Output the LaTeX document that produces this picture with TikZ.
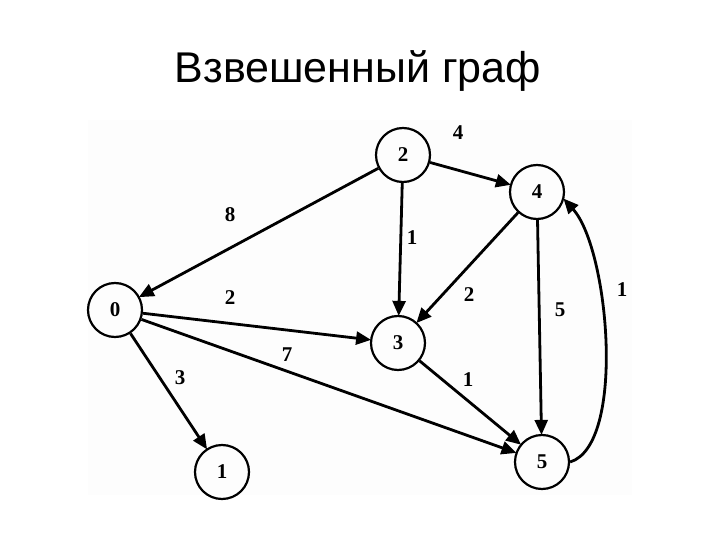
\documentclass[tikz,border=0pt]{standalone}
\usepackage{fontspec}
\setmainfont{Liberation Serif}
\newfontfamily\titlefont{Liberation Sans}
\usetikzlibrary{arrows.meta}

\begin{document}
\begin{tikzpicture}[x=1pt, y=-1pt,
    vertex/.style={draw, circle, line width=2.2pt, minimum size=54pt, inner sep=0pt,
        font=\fontsize{21}{21}\selectfont\bfseries},
    edge/.style={line width=2.8pt, -{Triangle[length=15pt,width=13pt]}, shorten >=-1pt},
    weight/.style={font=\fontsize{21}{21}\selectfont\bfseries}]
    \useasboundingbox (0,0) rectangle (720,540);
    \fill[white] (0,0) rectangle (720,540);
    \fill[black!0.8] (88,120) rectangle (632,495);

    \node[font=\titlefont\fontsize{43}{50}\selectfont, anchor=base] (title) at (358,83) {Взвешенный граф};

    \node[vertex] (n0) at (115,310) {0};
    \node[vertex] (n1) at (222,472) {1};
    \node[vertex] (n2) at (403,155) {2};
    \node[vertex] (n3) at (398,343) {3};
    \node[vertex] (n4) at (537,192) {4};
    \node[vertex] (n5) at (542,462) {5};

    \draw[edge] (n2) -- (n0);
    \draw[edge] (n2) -- (n4);
    \draw[edge] (n2) -- (n3);
    \draw[edge] (n4) -- (n3);
    \draw[edge] (n4) -- (n5);
    \draw[edge] (n0) -- (n3);
    \draw[edge] (n0) -- (n5);
    \draw[edge] (n0) -- (n1);
    \draw[edge] (n3) -- (n5);
    \draw[edge] (n5.east) .. controls +(56,-17) and +(45,50) .. (n4.-15);

    \node[weight] (w20) at (230,215) {8};
    \node[weight] (w24) at (458,133) {4};
    \node[weight] (w23) at (412,238) {1};
    \node[weight] (w43) at (469,295) {2};
    \node[weight] (w45) at (560,310) {5};
    \node[weight] (w54) at (622,290) {1};
    \node[weight] (w03) at (230,298) {2};
    \node[weight] (w05) at (287,355) {7};
    \node[weight] (w01) at (180,378) {3};
    \node[weight] (w35) at (468,380) {1};
\end{tikzpicture}
\end{document}
